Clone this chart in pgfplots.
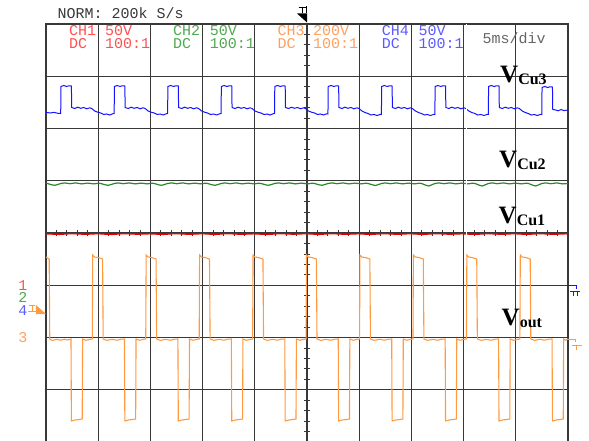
\documentclass[border=0pt]{standalone}
\usepackage{pgfplots}
\pgfplotsset{compat=1.18}
\usepackage{fontspec}
\newfontfamily\monof{Liberation Mono}
\newfontfamily\seriff{Liberation Serif}
\newcommand\scp{\monof\fontsize{15}{15}\selectfont}
\newcommand\vlab[1]{\seriff\bfseries{\fontsize{25}{25}\selectfont V}\raisebox{-2pt}{\fontsize{16}{16}\selectfont #1}}
\definecolor{gridc}{HTML}{383838}
\definecolor{ch1t}{HTML}{FF5050}
\definecolor{ch2t}{HTML}{50A850}
\definecolor{ch3t}{HTML}{FFA060}
\definecolor{ch4t}{HTML}{5A5AFF}
\definecolor{tr1}{HTML}{E80000}
\definecolor{tr2}{HTML}{228B22}
\definecolor{tr3}{HTML}{FF9A40}
\definecolor{tr4}{HTML}{1414FF}
\begin{document}
\begin{tikzpicture}
\begin{axis}[
  at={(0,0)}, anchor=south west,
  width=522pt, height=418pt, scale only axis,
  xmin=46, xmax=568, ymin=24, ymax=442, y dir=reverse,
  clip=false,
  xtick={46,98.2,150.4,202.6,254.8,307,359.2,411.4,463.6,515.8,568},
  ytick={24,76.25,128.5,180.75,233,285.25,337.5,389.75,442},
  xticklabels={}, yticklabels={},
  major tick length=0pt,
  grid=major,
  major grid style={color=gridc, line width=1.1pt},
  axis line style={color=gridc, line width=1.1pt},
]
% center line ticks
\pgfplotsinvokeforeach{1,...,39}{
  \draw[gridc, line width=0.8pt] (axis cs:304,{24+10.45*#1}) -- (axis cs:310,{24+10.45*#1});
}
\pgfplotsinvokeforeach{1,...,49}{
  \draw[gridc, line width=0.8pt] (axis cs:{46+10.44*#1},230) -- (axis cs:{46+10.44*#1},236);
}
% CH1 red (Vcu1)
\addplot[tr1, line width=1.3pt] coordinates {
(46,233.8)(59,234.4)(72,233.6)(85,234.3)(98,233.7)(111,234.5)(124,233.6)(137,234.2)(150,233.8)(163,234.4)(176,233.6)(189,234.3)(202,233.7)(215,234.4)(228,233.6)(241,234.3)(254,233.8)(267,234.5)(280,233.6)(293,234.2)(306,233.7)(319,234.4)(332,233.6)(345,234.3)(358,233.8)(371,234.4)(384,233.6)(397,234.3)(410,233.7)(423,234.4)(436,233.6)(449,234.2)(462,233.8)(475,234.4)(488,233.6)(501,234.3)(514,233.7)(527,234.4)(540,233.6)(553,234.3)(566,233.8)(568,234)
};
% CH2 green (Vcu2)
\addplot[tr2, line width=1.2pt] coordinates {
(46,183.2)
(47.7,183.6)(51.7,184.8)(54.7,185.3)(57.7,184.5)(60.7,183.5)(64.7,182.9)(69.7,183.7)(75.7,182.9)(81.7,183.9)(87.7,183.1)(93.7,183.9)(98.7,183.2)
(101.15,183.6)(105.15,184.8)(108.15,185.3)(111.15,184.5)(114.15,183.5)(118.15,182.9)(123.15,183.7)(129.15,182.9)(135.15,183.9)(141.15,183.1)(147.15,183.9)(152.15,183.2)
(154.6,183.6)(158.6,184.8)(161.6,185.3)(164.6,184.5)(167.6,183.5)(171.6,182.9)(176.6,183.7)(182.6,182.9)(188.6,183.9)(194.6,183.1)(200.6,183.9)(205.6,183.2)
(208.05,183.6)(212.05,184.8)(215.05,185.3)(218.05,184.5)(221.05,183.5)(225.05,182.9)(230.05,183.7)(236.05,182.9)(242.05,183.9)(248.05,183.1)(254.05,183.9)(259.05,183.2)
(261.5,183.6)(265.5,184.8)(268.5,185.3)(271.5,184.5)(274.5,183.5)(278.5,182.9)(283.5,183.7)(289.5,182.9)(295.5,183.9)(301.5,183.1)(307.5,183.9)(312.5,183.2)
(314.95,183.6)(318.95,184.8)(321.95,185.3)(324.95,184.5)(327.95,183.5)(331.95,182.9)(336.95,183.7)(342.95,182.9)(348.95,183.9)(354.95,183.1)(360.95,183.9)(365.95,183.2)
(368.4,183.6)(372.4,184.8)(375.4,185.5)(378.4,184.5)(381.4,183.5)(385.4,182.9)(390.4,183.7)(396.4,182.9)(402.4,183.9)(408.4,183.1)(414.4,183.9)(419.4,183.2)
(421.85,183.6)(425.85,185.2)(428.85,186)(431.85,184.8)(434.85,183.5)(438.85,182.9)(443.85,183.7)(449.85,182.9)(455.85,183.9)(461.85,183.1)(467.85,183.9)(472.85,183.2)
(475.3,183.6)(479.3,185.2)(482.3,186)(485.3,184.8)(488.3,183.5)(492.3,182.9)(497.3,183.7)(503.3,182.9)(509.3,183.9)(515.3,183.1)(521.3,183.9)(526.3,183.2)
(528.75,183.6)(532.75,185.2)(535.75,186)(538.75,184.8)(541.75,183.5)(545.75,182.9)(550.75,183.7)(556.75,182.9)(562.75,183.9)(568,183.5)
};
% CH4 blue (Vcu3)
\addplot[tr4, line width=1.0pt] coordinates {
(46,112.3)(50,113)(54,112.4)(58,113.3)
(60.7,113.5)(61,86.5)(63.7,85.5)(66.7,86.5)(68.7,85.8)(71.4,86)(71.7,107.5)(74.7,108.5)(77.7,107.2)(80.7,108.3)(83.7,107.5)(86.7,108.8)(89.7,107.8)(91.7,108.5)(94.7,111)(97.7,112.2)(100.7,113)(103.7,114.5)(106.7,114)(109.7,115)(112.7,113.8)
(114.15,113.5)(114.45,86.5)(117.15,85.5)(120.15,86.5)(122.15,85.8)(124.85,86)(125.15,107.5)(128.15,108.5)(131.15,107.2)(134.15,108.3)(137.15,107.5)(140.15,108.8)(143.15,107.8)(145.15,108.5)(148.15,111)(151.15,112.2)(154.15,113)(157.15,114.5)(160.15,114)(163.15,115)(166.15,113.8)
(167.6,113.5)(167.9,86.5)(170.6,85.5)(173.6,86.5)(175.6,85.8)(178.3,86)(178.6,107.5)(181.6,108.5)(184.6,107.2)(187.6,108.3)(190.6,107.5)(193.6,108.8)(196.6,107.8)(198.6,108.5)(201.6,111)(204.6,112.2)(207.6,113)(210.6,114.5)(213.6,114)(216.6,115)(219.6,113.8)
(221.05,113.5)(221.35,86.5)(224.05,85.5)(227.05,86.5)(229.05,85.8)(231.75,86)(232.05,107.5)(235.05,108.5)(238.05,107.2)(241.05,108.3)(244.05,107.5)(247.05,108.8)(250.05,107.8)(252.05,108.5)(255.05,111)(258.05,112.2)(261.05,113)(264.05,114.5)(267.05,114)(270.05,115)(273.05,113.8)
(274.5,113.5)(274.8,86.5)(277.5,85.5)(280.5,86.5)(282.5,85.8)(285.2,86)(285.5,107.5)(288.5,108.5)(291.5,107.2)(294.5,108.3)(297.5,107.5)(300.5,108.8)(303.5,107.8)(305.5,108.5)(308.5,111)(311.5,112.2)(314.5,113)(317.5,114.5)(320.5,114)(323.5,115)(326.5,113.8)
(327.95,114)(328.25,86.5)(330.95,85.5)(333.95,86.5)(335.95,85.8)(338.65,86)(338.95,107.5)(341.95,108.5)(344.95,107.2)(347.95,108.3)(350.95,107.5)(353.95,108.8)(356.95,107.8)(358.95,108.5)(361.95,111)(364.95,112.5)(367.95,113.5)(370.95,115)(373.95,114.5)(376.95,115.5)(379.95,114.5)
(381.4,114.5)(381.7,86.5)(384.4,85.5)(387.4,86.5)(389.4,85.8)(392.1,86)(392.4,107.5)(395.4,108.5)(398.4,107.2)(401.4,108.3)(404.4,107.5)(407.4,108.8)(410.4,107.8)(412.4,108.5)(415.4,111)(418.4,112.5)(421.4,113.5)(424.4,115)(427.4,114.5)(430.4,115.5)(433.4,114.5)
(434.85,114.5)(435.15,86.5)(437.85,85.5)(440.85,86.5)(442.85,85.8)(445.55,86)(445.85,107.5)(448.85,108.5)(451.85,107.2)(454.85,108.3)(457.85,107.5)(460.85,108.8)(463.85,107.8)(465.85,108.5)(468.85,111)(471.85,112.5)(474.85,113.5)(477.85,115)(480.85,114.5)(483.85,115.5)(486.85,114.5)
(488.3,114.5)(488.6,86.5)(491.3,85.5)(494.3,86.5)(496.3,85.8)(499,86)(499.3,107.5)(502.3,108.5)(505.3,107.2)(508.3,108.3)(511.3,107.5)(514.3,108.8)(517.3,107.8)(519.3,108.5)(522.3,111)(525.3,112.5)(528.3,113.5)(531.3,115)(534.3,114.5)(537.3,115.5)(540.3,114.5)
(541.75,114.5)(542.05,87.5)(544.75,86.5)(547.75,87.5)(549.75,86.8)(552.45,87)(552.75,109.5)(555,109.8)(558,110.8)(561,109.6)(564,110.6)(568,110)
};
% white scan gap
\draw[white, line width=1.6pt] (axis cs:466.6,24) -- (axis cs:466.6,300);
% CH3 orange (Vout)
\addplot[tr3, line width=1.1pt] coordinates {
(46,257)(47.5,258)(49.2,259)(49.75,339)(52.5,340.4)(56.5,339.3)(60.5,340.2)(64.5,339.2)(67.5,340)
(71,339)(71.4,421)(75,420)(79,419.5)(82.2,419)(82.6,339)(86,340.3)(90,339.3)(92.3,339)(92.7,255)(94.5,257)(98,257.5)(102.6,259)(103.2,339)(107,340.4)(112,339.3)(117,340.2)(121,339.2)
(124.45,339)(124.85,421)(128.45,420)(132.45,419.5)(135.65,419)(136.05,339)(139.45,340.3)(143.45,339.3)(145.75,339)(146.15,255)(147.95,257)(151.45,257.5)(156.05,259)(156.65,339)(160.45,340.4)(165.45,339.3)(170.45,340.2)(174.45,339.2)
(177.9,339)(178.3,421)(181.9,420)(185.9,419.5)(189.1,419)(189.5,339)(192.9,340.3)(196.9,339.3)(199.2,339)(199.6,255)(201.4,257)(204.9,257.5)(209.5,259)(210.1,339)(213.9,340.4)(218.9,339.3)(223.9,340.2)(227.9,339.2)
(231.35,339)(231.75,421)(235.35,420)(239.35,419.5)(242.55,419)(242.95,339)(246.35,340.3)(250.35,339.3)(252.65,339)(253.05,255)(254.85,257)(258.35,257.5)(262.95,259)(263.55,339)(267.35,340.4)(272.35,339.3)(277.35,340.2)(281.35,339.2)
(284.8,339)(285.2,421)(288.8,420)(292.8,419.5)(296,419)(296.4,339)(299.8,340.3)(303.8,339.3)(306.1,339)(306.5,255)(308.3,257)(311.8,257.5)(316.4,259)(317,339)(320.8,340.4)(325.8,339.3)(330.8,340.2)(334.8,339.2)
(338.25,339)(338.65,421)(342.25,420)(346.25,419.5)(349.45,419)(349.85,339)(353.25,340.3)(357.25,339.3)(359.55,339)(359.95,255)(361.75,257)(365.25,257.5)(369.85,259)(370.45,339)(374.25,340.4)(379.25,339.3)(384.25,340.2)(388.25,339.2)
(391.7,339)(392.1,421)(395.7,420)(399.7,419.5)(402.9,419)(403.3,339)(406.7,340.3)(410.7,339.3)(413,339)(413.4,255)(415.2,257)(418.7,257.5)(423.3,259)(423.9,339)(427.7,340.4)(432.7,339.3)(437.7,340.2)(441.7,339.2)
(445.15,339)(445.55,421)(449.15,420)(453.15,419.5)(456.35,419)(456.75,339)(460.15,340.3)(464.15,339.3)(466.45,339)(466.85,255)(468.65,257)(472.15,257.5)(476.75,259)(477.35,339)(481.15,340.4)(486.15,339.3)(491.15,340.2)(495.15,339.2)
(498.6,339)(499,421)(502.6,420)(506.6,419.5)(509.8,419)(510.2,339)(513.6,340.3)(517.6,339.3)(519.9,339)(520.3,255)(522.1,257)(525.6,257.5)(530.2,259)(530.8,339)(534.6,340.4)(539.6,339.3)(544.6,340.2)(548.6,339.2)
(552.05,339)(552.45,421)(556.05,420)(560.05,419.5)(563.25,419)(563.65,339)(566,340.2)(568,339)
};
% header texts
\node[anchor=base west, inner sep=0, text=gridc, font=\scp] at (axis cs:57.5,18.3) {NORM: 200k S/s};
\node[anchor=base west, inner sep=0, text=ch1t, font=\scp] at (axis cs:69,36) {CH1};
\node[anchor=base west, inner sep=0, text=ch1t, font=\scp] at (axis cs:105,36) {50V};
\node[anchor=base west, inner sep=0, text=ch1t, font=\scp] at (axis cs:69,48.3) {DC};
\node[anchor=base west, inner sep=0, text=ch1t, font=\scp] at (axis cs:105,48.3) {100:1};
\node[anchor=base west, inner sep=0, text=ch2t, font=\scp] at (axis cs:173,36) {CH2};
\node[anchor=base west, inner sep=0, text=ch2t, font=\scp] at (axis cs:209.7,36) {50V};
\node[anchor=base west, inner sep=0, text=ch2t, font=\scp] at (axis cs:173,48.3) {DC};
\node[anchor=base west, inner sep=0, text=ch2t, font=\scp] at (axis cs:209.7,48.3) {100:1};
\node[anchor=base west, inner sep=0, text=ch3t, font=\scp] at (axis cs:277.3,36) {CH3};
\node[anchor=base west, inner sep=0, text=ch3t, font=\scp] at (axis cs:313,36) {200V};
\node[anchor=base west, inner sep=0, text=ch3t, font=\scp] at (axis cs:277.3,48.3) {DC};
\node[anchor=base west, inner sep=0, text=ch3t, font=\scp] at (axis cs:313,48.3) {100:1};
\node[anchor=base west, inner sep=0, text=ch4t, font=\scp] at (axis cs:381.7,36) {CH4};
\node[anchor=base west, inner sep=0, text=ch4t, font=\scp] at (axis cs:418.3,36) {50V};
\node[anchor=base west, inner sep=0, text=ch4t, font=\scp] at (axis cs:381.7,48.3) {DC};
\node[anchor=base west, inner sep=0, text=ch4t, font=\scp] at (axis cs:418.3,48.3) {100:1};
\node[anchor=base west, inner sep=0, text=black!60, font=\scp] at (axis cs:482.5,43.3) {5ms/div};
% trigger marker top
\fill[black] (axis cs:297,13.5) -- (axis cs:307,13.5) -- (axis cs:307,22.5) -- cycle;
\draw[black, line width=0.7pt] (axis cs:298.5,7) -- (axis cs:306,7) (axis cs:302.2,7) -- (axis cs:302.2,13.5) (axis cs:306,6.5) -- (axis cs:306,13.5);
% left channel markers
\node[anchor=base, inner sep=0, text=ch1t, font=\scp] at (axis cs:22.8,290) {1};
\node[anchor=base, inner sep=0, text=ch2t, font=\scp] at (axis cs:22.8,302.8) {2};
\node[anchor=base, inner sep=0, text=ch4t, font=\scp] at (axis cs:22.8,315.2) {4};
\node[anchor=base, inner sep=0, text=ch3t, font=\scp] at (axis cs:22.8,342.3) {3};
\draw[tr3, line width=0.8pt] (axis cs:28,311) -- (axis cs:37,311) (axis cs:29,305.5) -- (axis cs:35,305.5) (axis cs:32,305.5) -- (axis cs:32,311);
\fill[tr3] (axis cs:36,305) -- (axis cs:46,314) -- (axis cs:36,314) -- cycle;
% right ground markers
\draw[tr4, line width=0.8pt] (axis cs:567,285.3) -- (axis cs:576.5,285.3) -- (axis cs:576.5,288.5) (axis cs:570,291.7) -- (axis cs:580,291.7) (axis cs:573,291.7) -- (axis cs:573,295.5) (axis cs:577.5,291.7) -- (axis cs:577.5,295.5);
\draw[tr3, line width=0.8pt] (axis cs:567,339) -- (axis cs:575,339) -- (axis cs:575,342) (axis cs:571.5,345) -- (axis cs:581.5,345) (axis cs:576,345) -- (axis cs:576,350);
% signal labels
\node[anchor=base west, inner sep=0] at (axis cs:500,82.5) {\vlab{Cu3}};
\node[anchor=base west, inner sep=0] at (axis cs:499,168) {\vlab{Cu2}};
\node[anchor=base west, inner sep=0] at (axis cs:498.5,223.5) {\vlab{Cu1}};
\node[anchor=base west, inner sep=0] at (axis cs:501.5,325) {\vlab{out}};
\end{axis}
\pgfresetboundingbox
\path[use as bounding box] (-46pt,1pt) rectangle (543pt,442pt);
\end{tikzpicture}
\end{document}
